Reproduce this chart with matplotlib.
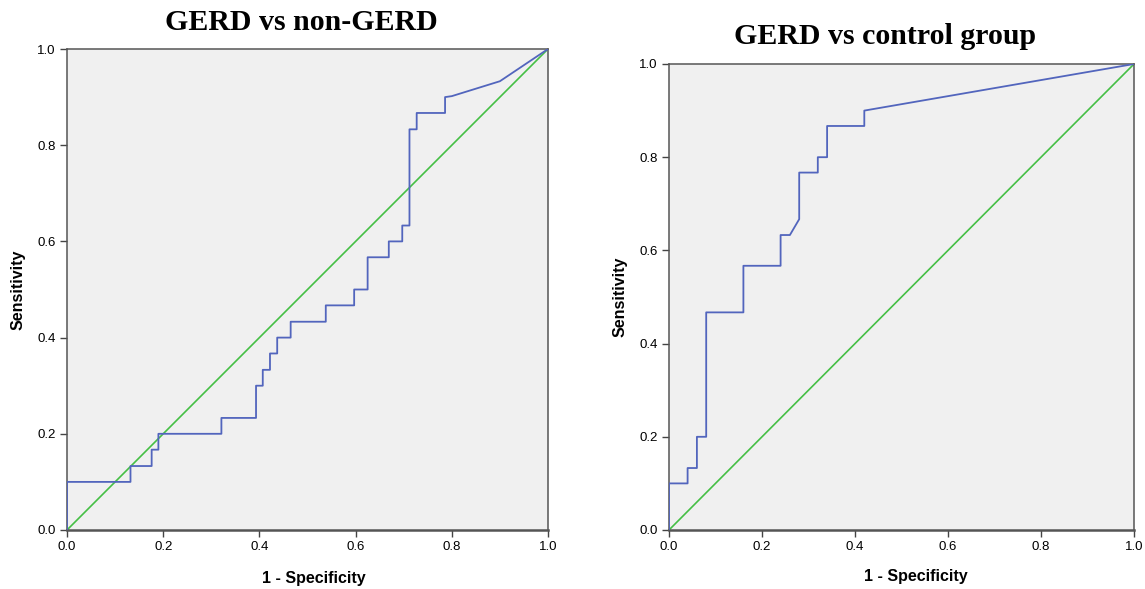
import matplotlib
matplotlib.use('Agg')
import matplotlib.pyplot as plt

# ROC curve points (fpr = 1 - specificity)
fpr_nongerd = [0.0, 0.0, 0.132, 0.132, 0.176, 0.176, 0.19, 0.19, 0.321, 0.321,
               0.393, 0.393, 0.407, 0.407, 0.422, 0.422, 0.437, 0.437, 0.465, 0.465,
               0.538, 0.538, 0.597, 0.597, 0.625, 0.625, 0.669, 0.669, 0.697, 0.697,
               0.712, 0.712, 0.727, 0.727, 0.786, 0.786, 0.80, 0.90, 1.0]
sens_nongerd = [0.0, 0.1, 0.1, 0.133, 0.133, 0.167, 0.167, 0.2, 0.2, 0.233,
                0.233, 0.3, 0.3, 0.333, 0.333, 0.367, 0.367, 0.4, 0.4, 0.433,
                0.433, 0.467, 0.467, 0.5, 0.5, 0.567, 0.567, 0.6, 0.6, 0.633,
                0.633, 0.833, 0.833, 0.867, 0.867, 0.9, 0.902, 0.933, 1.0]

fpr_control = [0.0, 0.0, 0.04, 0.04, 0.06, 0.06, 0.08, 0.08, 0.16, 0.16,
               0.24, 0.24, 0.26, 0.28, 0.28, 0.32, 0.32, 0.34, 0.34, 0.42, 0.42, 1.0]
sens_control = [0.0, 0.1, 0.1, 0.133, 0.133, 0.2, 0.2, 0.467, 0.467, 0.567,
                0.567, 0.633, 0.633, 0.667, 0.767, 0.767, 0.8, 0.8, 0.867, 0.867, 0.9, 1.0]

ref_line = [0.0, 1.0]
ticks = [0.0, 0.2, 0.4, 0.6, 0.8, 1.0]
tick_labels = ['0.0', '0.2', '0.4', '0.6', '0.8', '1.0']

blue = '#5265bd'
green = '#45bf45'

fig = plt.figure(figsize=(11.45, 5.89), dpi=100)
W, H = 1145.0, 589.0

def make_axes(x0, x1, y0, y1):
    # pixel box -> figure fractions
    return fig.add_axes([x0 / W, (H - y1) / H, (x1 - x0) / W, (y1 - y0) / H])

def style(ax, fpr, sens):
    ax.set_facecolor('#f0f0f0')
    ax.plot(ref_line, ref_line, color=green, lw=1.2, zorder=2)
    ax.plot(fpr, sens, color=blue, lw=1.3, zorder=3)
    ax.set_xlim(0, 1)
    ax.set_ylim(0, 1)
    ax.set_xticks(ticks)
    ax.set_yticks(ticks)
    ax.set_xticklabels(tick_labels, fontsize=9.5, family='Liberation Sans')
    ax.set_yticklabels(tick_labels, fontsize=9.5, family='Liberation Sans')
    ax.tick_params(direction='out', length=5, width=1, color='#444444', pad=3)
    for s in ax.spines.values():
        s.set_color('#555555')
        s.set_linewidth(1.1)
    ax.spines['bottom'].set_linewidth(1.8)

ax1 = make_axes(67, 548, 49, 530)
style(ax1, fpr_nongerd, sens_nongerd)
ax2 = make_axes(669, 1134, 64, 530)
style(ax2, fpr_control, sens_control)

title_font = ['Liberation Serif', 'DejaVu Serif']
lab_font = ['Liberation Sans', 'DejaVu Sans']
fig.text(301 / W, 1 - 22 / H, 'GERD vs non-GERD', ha='center', va='center',
         fontsize=21.5, fontweight='bold', family=title_font)
fig.text(885 / W, 1 - 37 / H, 'GERD vs control group', ha='center', va='center',
         fontsize=21.5, fontweight='bold', family=title_font)
fig.text(314 / W, 1 - 578 / H, '1 - Specificity', ha='center', va='center',
         fontsize=11.5, fontweight='bold', family=lab_font)
fig.text(916 / W, 1 - 577 / H, '1 - Specificity', ha='center', va='center',
         fontsize=11.5, fontweight='bold', family=lab_font)
fig.text(18 / W, 1 - 290 / H, 'Sensitivity', ha='center', va='center', rotation=90,
         fontsize=11.5, fontweight='bold', family=lab_font)
fig.text(620 / W, 1 - 297 / H, 'Sensitivity', ha='center', va='center', rotation=90,
         fontsize=11.5, fontweight='bold', family=lab_font)

fig.savefig('out.png', dpi=100)
